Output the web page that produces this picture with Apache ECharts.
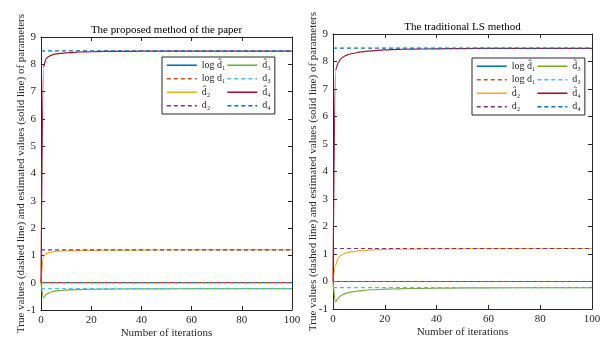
<!DOCTYPE html>
<html>
<head>
<meta charset="utf-8">
<script src="https://cdn.jsdelivr.net/npm/echarts@6/dist/echarts.min.js"></script>
<style>
  html, body { margin: 0; padding: 0; background: #fff; }
  #main { width: 612px; height: 344px; }
</style>
</head>
<body>
<div id="main"></div>
<script>
var iters = [0, 1, 2, 3, 4, 5, 6, 8, 10, 12, 15, 20, 25, 30, 40, 50, 60, 80, 100];

// proposed method (left)
var propD1 = [0, 0, 0, 0, 0, 0, 0, 0, 0, 0, 0, 0, 0, 0, 0, 0, 0, 0, 0];
var propD2 = [0, 0.95, 1.06, 1.1, 1.12, 1.14, 1.15, 1.16, 1.17, 1.175, 1.18, 1.185, 1.19, 1.19, 1.195, 1.2, 1.2, 1.2, 1.2];
var propD3 = [0, -0.55, -0.44, -0.38, -0.34, -0.32, -0.3, -0.285, -0.27, -0.26, -0.25, -0.24, -0.235, -0.23, -0.225, -0.225, -0.22, -0.22, -0.22];
var propD4 = [0, 7.9, 8.2, 8.28, 8.33, 8.36, 8.38, 8.4, 8.42, 8.43, 8.45, 8.46, 8.47, 8.47, 8.48, 8.48, 8.48, 8.48, 8.48];

// traditional LS method (right)
var lsD1 = [0, 0, 0, 0, 0, 0, 0, 0, 0, 0, 0, 0, 0, 0, 0, 0, 0, 0, 0];
var lsD2 = [0, 0.6, 0.85, 0.95, 1.0, 1.04, 1.06, 1.09, 1.12, 1.13, 1.15, 1.17, 1.175, 1.18, 1.19, 1.19, 1.195, 1.2, 1.2];
var lsD3 = [0, -0.75, -0.6, -0.52, -0.47, -0.43, -0.4, -0.37, -0.34, -0.32, -0.3, -0.28, -0.265, -0.255, -0.24, -0.235, -0.23, -0.225, -0.22];
var lsD4 = [0, 7.7, 7.95, 8.1, 8.17, 8.22, 8.26, 8.3, 8.34, 8.36, 8.39, 8.42, 8.44, 8.45, 8.46, 8.47, 8.48, 8.48, 8.48];

// true values (dashed)
var trueVals = [0, 1.2, -0.22, 8.49];

var names = ["log d\u0302\u2081", "log d\u2081", "d\u0302\u2082", "d\u2082", "d\u0302\u2083", "d\u2083", "d\u0302\u2084", "d\u2084"];
var colors = ["#0072BD", "#D95319", "#EDB120", "#7E2F8E", "#77AC30", "#4DBEEE", "#A2142F", "#0072BD"];
var titles = ["The proposed method of the paper", "The traditional LS method"];
var yName = "True values (dashed line) and estimated values (solid line) of parameters";
var xName = "Number of iterations";

var font = '"Liberation Serif", "Times New Roman", "DejaVu Serif", serif';
var ink = "#262626";

var grids = [
  { left: 41, top: 37, width: 251, height: 273 },
  { left: 333, top: 34, width: 259, height: 275 }
];

function pairs(ys) {
  return iters.map(function (x, i) { return [x, ys[i]]; });
}

var xAxes = [], yAxes = [], series = [], legends = [], titleList = [];
var estSets = [[propD1, propD2, propD3, propD4], [lsD1, lsD2, lsD3, lsD4]];
var legendPos = [{ left: 162, top: 57 }, { left: 472, top: 58 }];

grids.forEach(function (g, gi) {
  var tick = { show: true, inside: true, length: 4, lineStyle: { color: ink } };
  var line = { show: true, onZero: false, lineStyle: { color: ink, width: 1 } };
  var lbl = { color: ink, fontFamily: font, fontSize: 11, margin: 5 };
  xAxes.push({
    gridIndex: gi, type: "value", min: 0, max: 100, interval: 20, position: "bottom",
    axisLine: line, axisTick: tick, axisLabel: lbl, splitLine: { show: false },
    name: xName, nameLocation: "middle", nameGap: 18, nameMoveOverlap: false,
    nameTextStyle: { color: ink, fontFamily: font, fontSize: 11 }
  });
  xAxes.push({
    gridIndex: gi, type: "value", min: 0, max: 100, interval: 20, position: "top",
    axisLine: line, axisTick: tick, axisLabel: { show: false }, splitLine: { show: false }
  });
  yAxes.push({
    gridIndex: gi, type: "value", min: -1, max: 9, interval: 1, position: "left",
    axisLine: line, axisTick: tick, axisLabel: lbl, splitLine: { show: false },
    name: yName, nameLocation: "middle", nameGap: 14, nameRotate: 90, nameMoveOverlap: false,
    nameTextStyle: { color: ink, fontFamily: font, fontSize: 11 }
  });
  yAxes.push({
    gridIndex: gi, type: "value", min: -1, max: 9, interval: 1, position: "right",
    axisLine: line, axisTick: tick, axisLabel: { show: false }, splitLine: { show: false }
  });

  var est = estSets[gi];
  for (var k = 0; k < 4; k++) {
    series.push({
      name: names[2 * k], type: "line", xAxisIndex: gi * 2, yAxisIndex: gi * 2,
      data: pairs(est[k]), symbol: "none", smooth: 0.3, smoothMonotone: "x",
      lineStyle: { color: colors[2 * k], width: 1.2 }, itemStyle: { color: colors[2 * k] },
      animation: false
    });
    series.push({
      name: names[2 * k + 1], type: "line", xAxisIndex: gi * 2, yAxisIndex: gi * 2,
      data: [[0, trueVals[k]], [100, trueVals[k]]], symbol: "none",
      lineStyle: { color: colors[2 * k + 1], width: 1.2, type: [4, 3] },
      itemStyle: { color: colors[2 * k + 1] },
      animation: false
    });
  }

  legends.push({
    left: legendPos[gi].left, top: legendPos[gi].top, orient: "vertical", height: 56,
    data: names, itemWidth: 30, itemHeight: 10, itemGap: 1, padding: [2, 4, 2, 4],
    borderColor: ink, borderWidth: 1, backgroundColor: "#fff",
    selectedMode: false,
    itemStyle: { opacity: 0 },
    lineStyle: { width: 1.6 },
    textStyle: { color: ink, fontFamily: font, fontSize: 10, lineHeight: 12.5 }
  });

  titleList.push({
    text: titles[gi], left: g.left + g.width / 2, top: g.top - 12, textAlign: "center", padding: 0,
    textStyle: { color: "#000", fontFamily: font, fontSize: 11, fontWeight: "normal" }
  });
});

var option = {
  backgroundColor: "#fff",
  animation: false,
  title: titleList,
  legend: legends,
  grid: grids,
  xAxis: xAxes,
  yAxis: yAxes,
  series: series
};

var myChart = echarts.init(document.getElementById("main"));
myChart.setOption(option);
</script>
</body>
</html>
